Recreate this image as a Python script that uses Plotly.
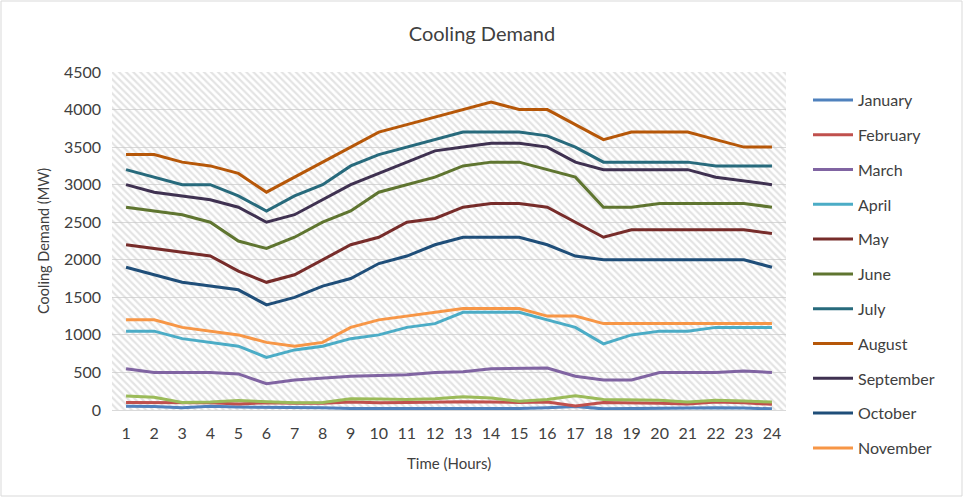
import plotly.graph_objects as go

hours = list(range(1, 25))
months = ["January", "February", "March", "April", "May", "June", "July",
          "August", "September", "October", "November", "December"]

january = [50, 45, 30, 50, 40, 40, 30, 30, 20, 20, 15, 20, 20, 25, 20, 30, 45, 15, 20, 30, 30, 30, 25, 15]
february = [100, 100, 90, 95, 80, 95, 90, 90, 105, 95, 100, 105, 110, 105, 100, 105, 55, 100, 100, 90, 80, 105, 95, 75]
march = [550, 500, 500, 500, 480, 350, 400, 420, 450, 460, 470, 500, 510, 550, 550, 560, 450, 400, 400, 500, 500, 500, 520, 500]
april = [1050, 1050, 950, 900, 850, 700, 800, 850, 950, 1000, 1100, 1150, 1300, 1300, 1300, 1200, 1100, 880, 1000, 1050, 1050, 1100, 1100, 1100]
may = [2200, 2150, 2100, 2050, 1850, 1700, 1800, 2000, 2200, 2300, 2500, 2550, 2700, 2750, 2750, 2700, 2500, 2300, 2400, 2400, 2400, 2400, 2400, 2350]
june = [2700, 2650, 2600, 2500, 2250, 2150, 2300, 2500, 2650, 2900, 3000, 3100, 3250, 3300, 3300, 3200, 3100, 2700, 2700, 2750, 2750, 2750, 2750, 2700]
july = [3200, 3100, 3000, 3000, 2850, 2650, 2850, 3000, 3250, 3400, 3500, 3600, 3700, 3700, 3700, 3650, 3500, 3300, 3300, 3300, 3300, 3250, 3250, 3250]
august = [3400, 3400, 3300, 3250, 3150, 2900, 3100, 3300, 3500, 3700, 3800, 3900, 4000, 4100, 4000, 4000, 3800, 3600, 3700, 3700, 3700, 3600, 3500, 3500]
september = [3000, 2900, 2850, 2800, 2700, 2500, 2600, 2800, 3000, 3150, 3300, 3450, 3500, 3550, 3550, 3500, 3300, 3200, 3200, 3200, 3200, 3100, 3050, 3000]
october = [1900, 1800, 1700, 1650, 1600, 1400, 1500, 1650, 1750, 1950, 2050, 2200, 2300, 2300, 2300, 2200, 2050, 2000, 2000, 2000, 2000, 2000, 2000, 1900]
november = [1200, 1200, 1100, 1050, 1000, 900, 850, 900, 1100, 1200, 1250, 1300, 1350, 1350, 1350, 1250, 1250, 1150, 1150, 1150, 1150, 1150, 1150, 1150]
december = [185, 170, 100, 105, 125, 105, 95, 100, 150, 145, 140, 150, 175, 160, 115, 140, 190, 140, 135, 130, 105, 130, 120, 105]

series = [january, february, march, april, may, june, july, august,
          september, october, november, december]
colors = ["#4F81BD", "#C0504D", "#8064A2", "#4BACC6", "#772C2A", "#5F7530",
          "#276A7C", "#B65708", "#3F3151", "#1F4E79", "#F79646", "#9BBB59"]

y_max = 4500
FONT = "Lato, 'Open Sans', sans-serif"
TXT = "#404040"

fig = go.Figure()

# hatched plot-area background
fig.add_trace(go.Scatter(
    x=[0.5, 24.5, 24.5, 0.5, 0.5], y=[0, 0, y_max, y_max, 0],
    mode="lines", line=dict(width=0), fill="toself",
    fillcolor="rgba(0,0,0,0)",
    fillpattern=dict(shape="\\", fgcolor="#c8c8c8", bgcolor="rgba(0,0,0,0)",
                     size=5, solidity=0.45),
    hoverinfo="skip", showlegend=False))

for name, vals, col in zip(months, series, colors):
    fig.add_trace(go.Scatter(
        x=hours, y=vals, mode="lines", name=name,
        line=dict(color=col, width=3),
        legendgroup=name,
        showlegend=(name != "December")))

fig.update_layout(
    width=964, height=498,
    margin=dict(l=112, r=178, t=72, b=88),
    paper_bgcolor="white", plot_bgcolor="white",
    font=dict(family=FONT, size=16, color=TXT),
    title=dict(text="Cooling Demand", x=0.5, xref="container", xanchor="center",
               y=1 - 34 / 498, yanchor="middle",
               font=dict(size=20, color=TXT)),
    legend=dict(x=1 + 22 / 674, xanchor="left", xref="paper", y=1 - 11 / 338,
                yanchor="top", traceorder="grouped", tracegroupgap=11,
                font=dict(size=16, color=TXT), itemwidth=40,
                bgcolor="rgba(0,0,0,0)", maxheight=480),
    showlegend=True,
    annotations=[
        dict(text="Time (Hours)", xref="paper", yref="paper", x=0.5,
             y=-53 / 338, xanchor="center", yanchor="middle", showarrow=False,
             font=dict(size=15, color=TXT)),
        dict(text="Cooling Demand (MW)", xref="paper", yref="paper",
             x=-69 / 674, y=0.5, xanchor="center", yanchor="middle",
             textangle=-90, showarrow=False, font=dict(size=14.5, color=TXT)),
    ],
)

fig.update_xaxes(
    range=[0.5, 24.5], tickmode="array", tickvals=hours,
    ticktext=[str(h) for h in hours],
    showgrid=False, zeroline=False, showline=True, linecolor="#d9d9d9",
    linewidth=1, ticks="", tickfont=dict(size=16, color=TXT),
    ticklabelstandoff=9,
)
fig.update_yaxes(
    range=[0, y_max], tickmode="linear", tick0=0, dtick=500,
    showgrid=True, gridcolor="#d9d9d9", gridwidth=1, zeroline=False,
    showline=False, ticks="", tickfont=dict(size=16, color=TXT),
    ticklabelstandoff=10,
)

# outer chart border
fig.add_shape(type="rect", xref="paper", yref="paper",
              x0=-111 / 674, x1=1 + 176 / 674, y0=-86 / 338, y1=1 + 71 / 338,
              line=dict(color="#d9d9d9", width=1), fillcolor="rgba(0,0,0,0)",
              layer="below")

fig.write_html("out.html", config={"displayModeBar": False},
               post_script="document.body.style.margin='0';")
